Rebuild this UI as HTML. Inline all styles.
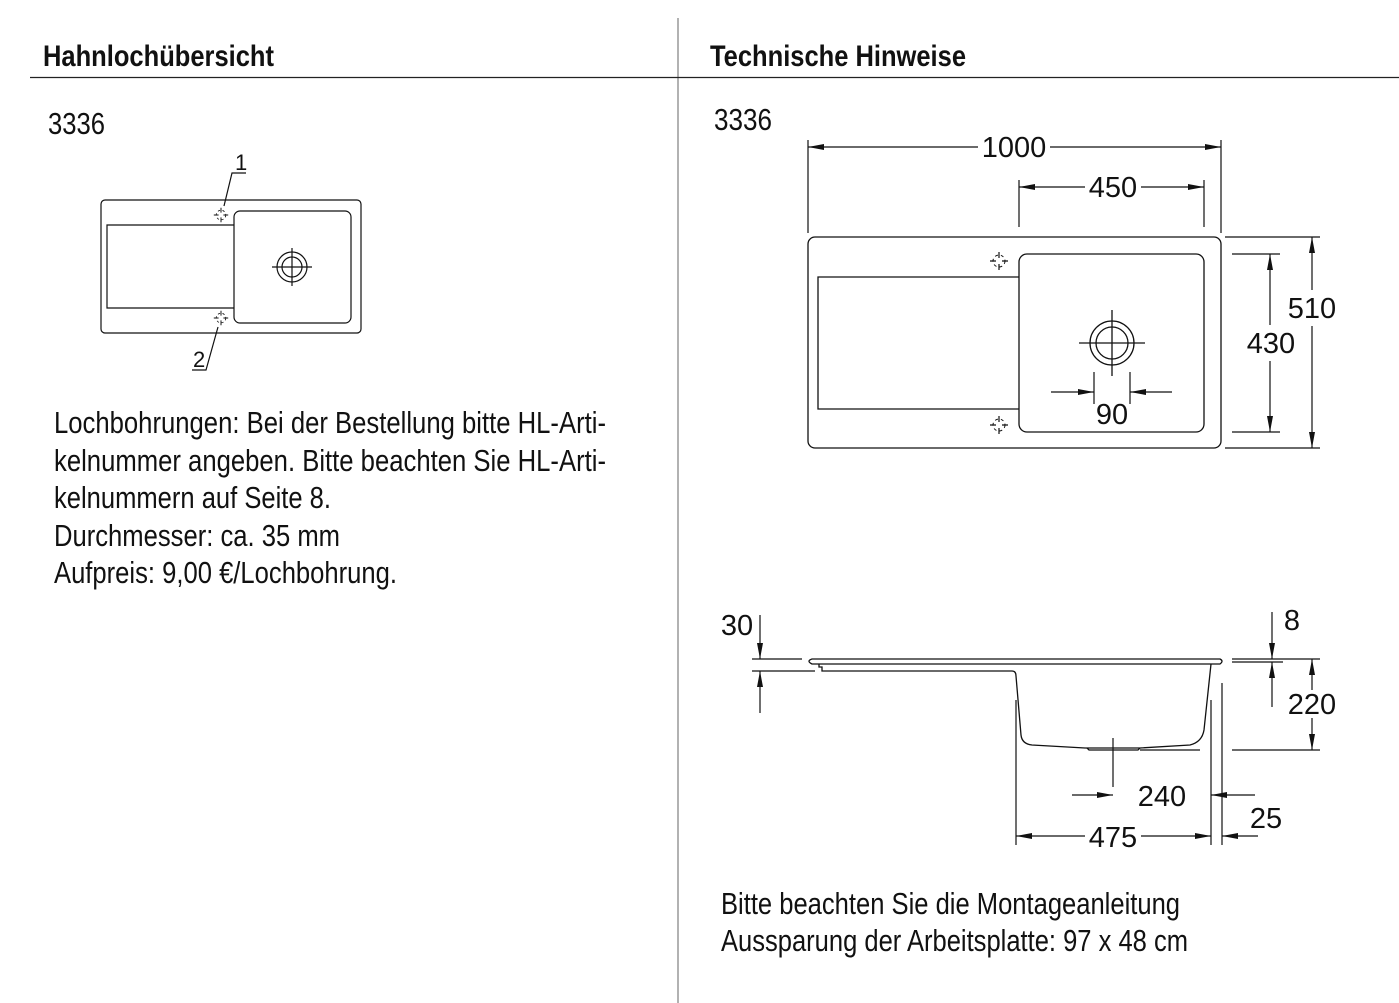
<!DOCTYPE html>
<html><head><meta charset="utf-8"><style>
html,body{margin:0;padding:0;background:#fff;}
svg{display:block;}
text{font-family:"Liberation Sans Narrow","Liberation Sans",sans-serif;fill:#111;}
.h{font-weight:bold;font-size:30px;}
.t{font-size:31px;}
.d{font-size:29px;}
</style></head><body>
<svg width="1399" height="1003" viewBox="0 0 1399 1003" xmlns="http://www.w3.org/2000/svg">
<defs>
<marker id="a" viewBox="0 0 16 6" refX="16" refY="3" markerWidth="16" markerHeight="6" markerUnits="userSpaceOnUse" orient="auto"><path d="M0,0 L16,3 L0,6z" fill="#111"/></marker>
<g id="cx"><circle r="6" fill="none" stroke="#111" stroke-width="1" stroke-dasharray="3 3"/><path d="M-9,0h6M3,0h6M0,-9v6M0,3v6" stroke="#111" stroke-width="1.2"/></g>
</defs>
<line x1="678" y1="18" x2="678" y2="1003" stroke="#999" stroke-width="1.5"/>
<line x1="30" y1="77.5" x2="1399" y2="77.5" stroke="#222" stroke-width="1.2"/>
<text class="h" x="43" y="66" textLength="231" lengthAdjust="spacingAndGlyphs">Hahnlochübersicht</text>
<text class="h" x="710" y="66" textLength="256" lengthAdjust="spacingAndGlyphs">Technische Hinweise</text>
<text class="t" x="48" y="134" textLength="57" lengthAdjust="spacingAndGlyphs">3336</text>
<text class="t" x="714" y="130" textLength="58" lengthAdjust="spacingAndGlyphs">3336</text>

<g fill="none" stroke="#111" stroke-width="1.2">
<rect x="101" y="200" width="260" height="133" rx="4"/>
<path d="M234,225 H107 V308 H234"/>
<rect x="234" y="211" width="117" height="112" rx="6"/>
<circle cx="292" cy="267" r="15"/><circle cx="292" cy="267" r="10"/>
<path d="M272,267h40M292,248v38"/>
<path d="M224,206 L232,173 H246"/>
<path d="M218,327 L206,370 H192"/>
</g>
<g transform="translate(221,215) scale(0.8)"><use href="#cx"/></g>
<g transform="translate(221,318) scale(0.8)"><use href="#cx"/></g>
<text x="235" y="170" font-size="22">1</text>
<text x="193" y="367" font-size="22">2</text>

<g class="t">
<text x="54" y="433" textLength="552" lengthAdjust="spacingAndGlyphs">Lochbohrungen: Bei der Bestellung bitte HL-Arti-</text>
<text x="54" y="471" textLength="552" lengthAdjust="spacingAndGlyphs">kelnummer angeben. Bitte beachten Sie HL-Arti-</text>
<text x="54" y="508" textLength="277" lengthAdjust="spacingAndGlyphs">kelnummern auf Seite 8.</text>
<text x="54" y="546" textLength="286" lengthAdjust="spacingAndGlyphs">Durchmesser: ca. 35 mm</text>
<text x="54" y="583" textLength="343" lengthAdjust="spacingAndGlyphs">Aufpreis: 9,00 €/Lochbohrung.</text>
</g>

<g fill="none" stroke="#111" stroke-width="1.3">
<rect x="808" y="237" width="413" height="211" rx="7"/>
<path d="M1019,277 H818 V409 H1019"/>
<rect x="1019" y="254" width="185" height="178" rx="8"/>
<circle cx="1112" cy="343" r="22"/><circle cx="1112" cy="343" r="16"/>
<path d="M1079,343h66M1112,310v66"/>
</g>
<use href="#cx" x="999" y="261"/><use href="#cx" x="999" y="425"/>
<g stroke="#111" stroke-width="1.2" fill="none">
<path d="M808,140V233M1221,140V233"/>
<line x1="978" y1="147" x2="808" y2="147" marker-end="url(#a)"/>
<line x1="1050" y1="147" x2="1221" y2="147" marker-end="url(#a)"/>
<path d="M1019,180V227M1204,180V227"/>
<line x1="1085" y1="187" x2="1019" y2="187" marker-end="url(#a)"/>
<line x1="1141" y1="187" x2="1204" y2="187" marker-end="url(#a)"/>
<path d="M1225,237H1320M1225,448H1320"/>
<line x1="1312" y1="290" x2="1312" y2="237" marker-end="url(#a)"/>
<line x1="1312" y1="326" x2="1312" y2="448" marker-end="url(#a)"/>
<path d="M1232,254H1280M1232,432H1280"/>
<line x1="1270" y1="325" x2="1270" y2="254" marker-end="url(#a)"/>
<line x1="1270" y1="361" x2="1270" y2="432" marker-end="url(#a)"/>
<path d="M1094,372V404M1130,372V404"/>
<line x1="1051" y1="392" x2="1094" y2="392" marker-end="url(#a)"/>
<line x1="1172" y1="392" x2="1130" y2="392" marker-end="url(#a)"/>
</g>
<g class="d" text-anchor="middle">
<text x="1014" y="157">1000</text>
<text x="1113" y="197">450</text>
<text x="1312" y="318">510</text>
<text x="1271" y="353">430</text>
<text x="1112" y="424">90</text>
</g>

<g fill="none" stroke="#111" stroke-width="1.3">
<path d="M812,659 H1220 Q1224,661 1220,664 H812 Q806,661 812,659Z"/>
<path d="M819,664 v3 h3 v4 H1012 Q1016,671 1016,676 L1021,735 Q1022,744 1032,745 L1085,748 L1140,748 L1190,745 Q1202,742 1204,730 L1211,664"/>
<path d="M1087,748 L1089,750 H1138 L1140,748"/>
</g>
<g stroke="#111" stroke-width="1.2" fill="none">
<path d="M752,659H802M752,671H815"/>
<line x1="760" y1="615" x2="760" y2="659" marker-end="url(#a)"/>
<line x1="760" y1="713" x2="760" y2="671" marker-end="url(#a)"/>
<path d="M1232,659H1320M1232,662H1283M1232,750H1320"/>
<line x1="1272" y1="612" x2="1272" y2="659" marker-end="url(#a)"/>
<line x1="1272" y1="707" x2="1272" y2="662" marker-end="url(#a)"/>
<line x1="1312" y1="690" x2="1312" y2="659" marker-end="url(#a)"/>
<line x1="1312" y1="718" x2="1312" y2="750" marker-end="url(#a)"/>
<path d="M1016,700V845M1211,700V845M1222,683V845M1113,738V787M1140,750H1200"/>
<line x1="1072" y1="795" x2="1113" y2="795" marker-end="url(#a)"/>
<line x1="1255" y1="795" x2="1211" y2="795" marker-end="url(#a)"/>
<line x1="1258" y1="836" x2="1222" y2="836" marker-end="url(#a)"/>
<line x1="1085" y1="836" x2="1016" y2="836" marker-end="url(#a)"/>
<line x1="1141" y1="836" x2="1211" y2="836" marker-end="url(#a)"/>
</g>
<g class="d" text-anchor="middle">
<text x="737" y="635">30</text>
<text x="1292" y="630">8</text>
<text x="1312" y="714">220</text>
<text x="1162" y="806">240</text>
<text x="1266" y="828">25</text>
<text x="1113" y="847">475</text>
</g>
<g class="t">
<text x="721" y="914" textLength="459" lengthAdjust="spacingAndGlyphs">Bitte beachten Sie die Montageanleitung</text>
<text x="721" y="951" textLength="467" lengthAdjust="spacingAndGlyphs">Aussparung der Arbeitsplatte: 97 x 48 cm</text>
</g>
</svg>
</body></html>
